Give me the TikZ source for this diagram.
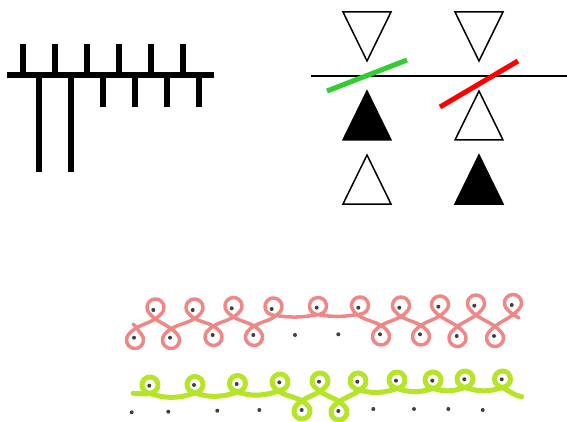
\documentclass[tikz,border=0pt]{standalone}
\usetikzlibrary{calc}
\definecolor{curlred}{RGB}{240,135,135}
\definecolor{curlgreen}{RGB}{182,228,40}
\definecolor{bargreen}{RGB}{50,205,50}
\begin{document}
\begin{tikzpicture}[x=1pt,y=1pt,
    comb/.style={line width=6pt},
    tri/.style={draw=black, line width=1.5pt, line join=miter},
    curl/.style={line width=#1, line cap=round, line join=round}]
\useasboundingbox (0,0) rectangle (567,421);

            % Comb: the bar
            \draw[comb] (7,346) -- (214,346);

            % Teeth above the bar
            \draw[comb] (23,346) -- (23,377);
            \draw[comb] (55,346) -- (55,377);
            \draw[comb] (87,346) -- (87,377);
            \draw[comb] (119,346) -- (119,377);
            \draw[comb] (151,346) -- (151,377);
            \draw[comb] (183,346) -- (183,377);

            % Teeth below the bar, two long ones and four short ones
            \draw[comb] (39,346) -- (39,249);
            \draw[comb] (71,346) -- (71,249);
            \draw[comb] (103,346) -- (103,314);
            \draw[comb] (135,346) -- (135,314);
            \draw[comb] (167,346) -- (167,314);
            \draw[comb] (199,346) -- (199,314);

            % Left column of triangles
            \draw[tri] (343,409) -- (391,409) -- (367,360) -- cycle;
            \filldraw[tri, fill=black] (343,281) -- (391,281) -- (367,330) -- cycle;
            \draw[tri] (343,217) -- (391,217) -- (367,266) -- cycle;

            % Right column of triangles
            \draw[tri] (455,409) -- (503,409) -- (479,360) -- cycle;
            \draw[tri] (455,281) -- (503,281) -- (479,330) -- cycle;
            \filldraw[tri, fill=black] (455,217) -- (503,217) -- (479,266) -- cycle;

            % The line
            \draw[line width=1.6pt] (311,345) -- (567,345);

            % Green and red strokes
            \draw[bargreen, line width=5pt] (327,330) -- (407,361);
            \draw[red, line width=5pt] (440,314) -- (518,360);

            % Red curl
            \draw[curlred, curl=3.5pt] (133,97)
              \foreach \x/\y/\sa/\ea/\i/\o in {
                135/81/40/-220/130/-40, 155.5/113.5/-40/220/230/50,
                171/81/40/-220/130/-50, 194.5/113.5/-40/220/230/50,
                213.5/84/40/-220/130/-50, 233.5/115/-40/220/230/50,
                254/84/40/-220/130/-50, 273.5/114.5/-40/260/230/50,
                318/115/-80/260/190/-10, 360/115.5/-80/220/190/-10,
                381/84.5/40/-220/130/-50, 401/115.5/-40/220/230/50,
                421/84.5/40/-220/130/-50, 440/116.5/-40/220/230/50,
                457.5/83/40/-220/130/-50, 476/117.5/-40/220/230/50,
                495/83/40/-220/130/-50, 513/118/-40/220/230/50}
              { to[out=\o, in=\i] ($(\x,\y)+(\sa:8.5pt)$)
                arc[start angle=\sa, end angle=\ea, radius=8.5pt] }
              to[out=-50, in=150] (519,103);

            % Green curl
            \draw[curlgreen, curl=5pt] (133,27.7)
              \foreach \x/\y/\sa/\ea/\i/\o in {
                150/36/-70/250/200/0, 195/36.5/-70/250/200/-20,
                237.5/37.5/-70/250/200/-20, 280/39/-70/225/200/-20,
                302/10/45/-225/135/-45, 320/40/-45/225/225/45,
                339/9/45/-225/135/-45, 358/40/-45/250/225/45,
                397/41/-70/250/200/-20, 433/41/-70/250/200/-20,
                465/42/-70/250/200/-20, 502.5/42/-70/250/200/-20}
              { to[out=\o, in=\i] ($(\x,\y)+(\sa:8pt)$)
                arc[start angle=\sa, end angle=\ea, radius=8pt] }
              to[out=-20, in=170] (521.7,24.3);

            % Dots
            \foreach \x/\y in {153.3/111, 192.7/111, 231.7/112.7, 271.7/112,
                316.7/113.3, 358.3/113.3, 399.3/113.3, 438.3/114.3, 474.3/115.3,
                511.7/116, 134/83.3, 170/83.3, 212.7/86, 253.3/86, 295/86,
                338.3/86.7, 380/86.7, 420/86.7, 456.7/85, 494/85,
                149.3/35.3, 194/36, 236.7/37, 279.3/38.7, 319/39.3, 357.3/39.3,
                396/40.3, 432.3/40.3, 464.3/41.7, 501.7/41.7, 131.7/8.7,
                168.3/9.3, 217.3/10.3, 259.3/11, 301.7/11, 338.3/10, 373.3/12,
                414/12, 448.3/12, 482.7/11}
              \fill[black!75] (\x,\y) circle (2pt);

        \end{tikzpicture}
\end{document}
